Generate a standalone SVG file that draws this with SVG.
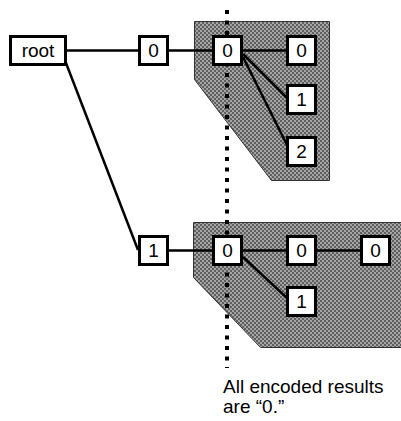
<svg xmlns="http://www.w3.org/2000/svg" width="401" height="421" viewBox="0 0 401 421">
<defs>
<pattern id="chk" patternUnits="userSpaceOnUse" width="4" height="4">
<rect width="4" height="4" fill="#a4a4a4"/>
<rect width="2" height="2" fill="#5f5f5f"/>
<rect x="2" y="2" width="2" height="2" fill="#5f5f5f"/>
</pattern>
</defs>
<style>
.region{fill:url(#chk);stroke:#333;stroke-width:1}
.box{fill:#fff;stroke:#000;stroke-width:3}
.lbl{font-family:"Liberation Sans",Arial,sans-serif;font-size:19px;fill:#000;text-anchor:middle}
.edge{stroke:#000;stroke-width:2.5;fill:none}
.note{font-family:"Liberation Sans",Arial,sans-serif;font-size:19px;fill:#000}
</style>
<polygon class="region" points="194.5,21.5 329.5,21.5 329.5,180.5 271.5,180.5 194.5,79.5"/>
<polygon class="region" points="193.5,222.5 402,222.5 402,347.5 260.5,347.5 193.5,277.5"/>
<g id="connectors">
<line class="edge" x1="67" y1="50.5" x2="138" y2="50.5"/>
<line class="edge" x1="66" y1="63" x2="138" y2="250"/>
<line class="edge" x1="169" y1="50.5" x2="212" y2="50.5"/>
<line class="edge" x1="243" y1="50.5" x2="286" y2="50.5"/>
<line class="edge" x1="243" y1="54" x2="287" y2="98"/>
<line class="edge" x1="243" y1="57" x2="287" y2="145"/>
<line class="edge" x1="169" y1="250.5" x2="212" y2="250.5"/>
<line class="edge" x1="243" y1="250.5" x2="286" y2="250.5"/>
<line class="edge" x1="317" y1="250.5" x2="360" y2="250.5"/>
<line class="edge" x1="243" y1="257" x2="287" y2="298"/>
</g>
<line x1="227" y1="10" x2="227" y2="368" stroke="#000" stroke-width="4" stroke-dasharray="4 6.5"/>
<g id="n-root"><rect class="box" x="10.5" y="36.5" width="55" height="28"/><text class="lbl" x="38" y="57">root</text></g>
<g id="n-0"><rect class="box" x="139.5" y="36.5" width="28" height="28"/><text class="lbl" x="153.5" y="57">0</text></g>
<g id="n-00"><rect class="box" x="213.5" y="36.5" width="28" height="28"/><text class="lbl" x="227.5" y="57">0</text></g>
<g id="n-000"><rect class="box" x="287.5" y="36.5" width="28" height="28"/><text class="lbl" x="301.5" y="57">0</text></g>
<g id="n-001"><rect class="box" x="287.5" y="85.5" width="28" height="28"/><text class="lbl" x="301.5" y="106">1</text></g>
<g id="n-002"><rect class="box" x="287.5" y="137.5" width="28" height="28"/><text class="lbl" x="301.5" y="158">2</text></g>
<g id="n-1"><rect class="box" x="139.5" y="236.5" width="28" height="28"/><text class="lbl" x="153.5" y="257">1</text></g>
<g id="n-10"><rect class="box" x="213.5" y="236.5" width="28" height="28"/><text class="lbl" x="227.5" y="257">0</text></g>
<g id="n-100"><rect class="box" x="287.5" y="236.5" width="28" height="28"/><text class="lbl" x="301.5" y="257">0</text></g>
<g id="n-1000"><rect class="box" x="361.5" y="236.5" width="28" height="28"/><text class="lbl" x="375.5" y="257">0</text></g>
<g id="n-101"><rect class="box" x="287.5" y="287.5" width="28" height="28"/><text class="lbl" x="301.5" y="308">1</text></g>
<text class="note" x="223" y="393">All encoded results</text>
<text class="note" x="223" y="413">are “0.”</text>
</svg>
